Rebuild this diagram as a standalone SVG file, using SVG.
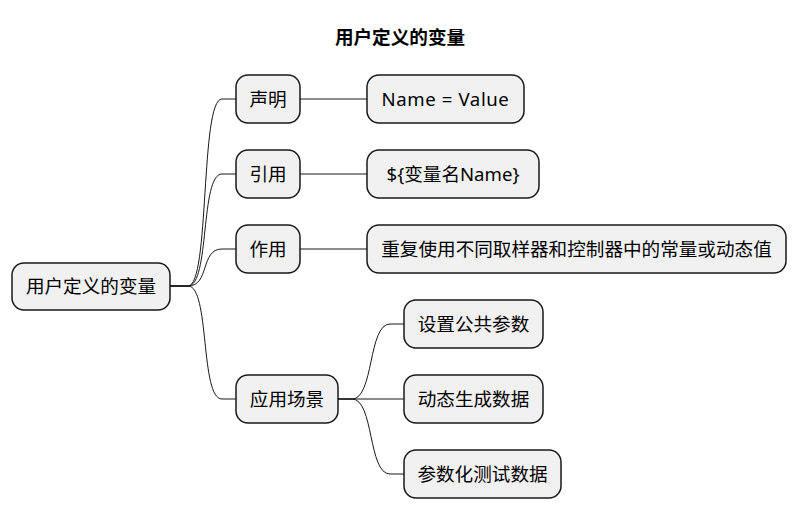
<svg xmlns="http://www.w3.org/2000/svg" width="800" height="527" viewBox="0 0 800 527">
<style>
.n rect{fill:#F1F1F1;stroke:#181818;stroke-width:1.5}
.n text{font-family:"Noto Sans","Noto Sans CJK SC",sans-serif;font-size:18.6px;fill:#000;text-anchor:middle}
.c path{fill:none;stroke:#181818;stroke-width:1}
.t{font-family:"Noto Sans CJK SC","Noto Sans",sans-serif;font-size:18.6px;font-weight:bold;text-anchor:middle}
</style>
<rect width="800" height="527" fill="#fff"/>
<text class="t" x="400" y="44">用户定义的变量</text>
<g class="c" id="connectors">
<path d="M170,286 L188,286 C210,286 200,99 222,99 L236,99"/>
<path d="M170,286 L188,286 C210,286 200,174 222,174 L236,174"/>
<path d="M170,286 L188,286 C210,286 200,249 222,249 L236,249"/>
<path d="M170,286 L188,286 C210,286 200,399 222,399 L236,399"/>
<path d="M300,99 L367,99"/>
<path d="M300,174 L367,174"/>
<path d="M300,249 L367,249"/>
<path d="M338,399 L352,399 C374,399 368,324 390,324 L404,324"/>
<path d="M338,399 L404,399"/>
<path d="M338,399 L352,399 C374,399 368,474 390,474 L404,474"/>
</g>
<g class="n" id="root"><rect x="12" y="263" width="158" height="47" rx="12"/><text x="91" y="292.5">用户定义的变量</text></g>
<g class="n" id="n1"><rect x="236" y="75" width="64" height="48" rx="12"/><text x="268" y="105.5">声明</text></g>
<g class="n" id="n1a"><rect x="367" y="75" width="157" height="48" rx="12"/><text x="445.5" y="105.5" letter-spacing="0.6">Name = Value</text></g>
<g class="n" id="n2"><rect x="236" y="150" width="64" height="48" rx="12"/><text x="268" y="180.5">引用</text></g>
<g class="n" id="n2a"><rect x="367" y="150" width="172" height="48" rx="12"/><text x="453" y="180.5">${变量名Name}</text></g>
<g class="n" id="n3"><rect x="236" y="225" width="64" height="48" rx="12"/><text x="268" y="255.5">作用</text></g>
<g class="n" id="n3a"><rect x="367" y="225" width="419" height="48" rx="12"/><text x="576.5" y="255.5">重复使用不同取样器和控制器中的常量或动态值</text></g>
<g class="n" id="n4"><rect x="236" y="375" width="102" height="48" rx="12"/><text x="287" y="405.5">应用场景</text></g>
<g class="n" id="n4a"><rect x="404" y="300" width="139" height="48" rx="12"/><text x="473.5" y="330.5">设置公共参数</text></g>
<g class="n" id="n4b"><rect x="404" y="375" width="139" height="48" rx="12"/><text x="473.5" y="405.5">动态生成数据</text></g>
<g class="n" id="n4c"><rect x="404" y="450" width="157" height="48" rx="12"/><text x="482.5" y="480.5">参数化测试数据</text></g>
</svg>
